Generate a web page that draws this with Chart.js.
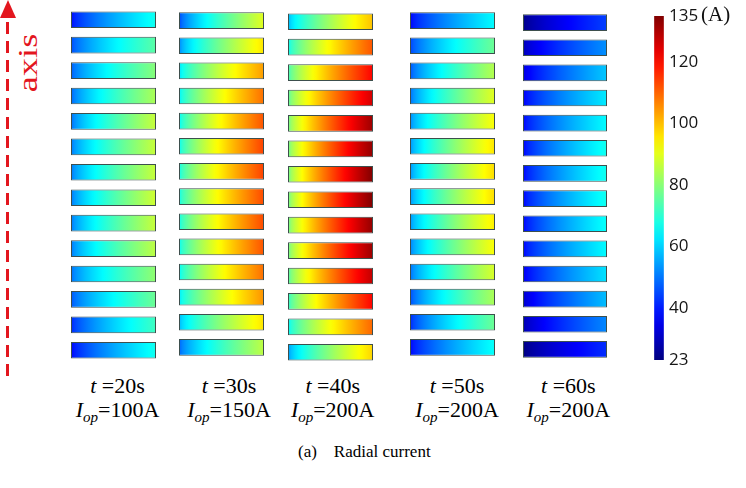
<!DOCTYPE html>
<html lang="en">
<head>
<meta charset="utf-8">
<title>Radial current</title>
<script src="https://cdn.jsdelivr.net/npm/chart.js@4.4.1/dist/chart.umd.min.js"></script>
<style>
  body { margin: 0; background: #fff; }
  #wrap { position: relative; width: 746px; height: 488px; overflow: hidden; background: #fff; }
  canvas { position: absolute; }
  .lab { position: absolute; font-family: "Liberation Serif", "Times New Roman", serif; font-size: 22px;
         line-height: 22px; color: #000; white-space: nowrap; transform: translateX(-50%); }
  .lab sub { font-size: 15px; vertical-align: -5px; line-height: 0; }
  #axisTxt { position: absolute; left: 28px; top: 63px; color: #e3161e; font-family: "Liberation Serif", serif;
             font-size: 28px; line-height: 28px; white-space: nowrap;
             transform: translate(-50%, -50%) rotate(-90deg) scaleX(1.3); }
  #unit { position: absolute; left: 701px; top: 4px; font-family: "Liberation Serif", serif; font-size: 21px;
          line-height: 21px; color: #111; }
  #caption { position: absolute; left: 298px; top: 443px; font-family: "Liberation Serif", serif;
             font-size: 17px; line-height: 17px; color: #000; white-space: pre; }
</style>
</head>
<body>
<div id="wrap">
  <svg style="position:absolute;left:0;top:0" width="40" height="390">
    <line x1="7.5" y1="376" x2="7.5" y2="17" stroke="#e3161e" stroke-width="3" stroke-dasharray="12 7"/>
    <polygon points="0,18 16,18 8,0" fill="#e3161e"/>
  </svg>
  <div id="axisTxt">axis</div>
  <canvas id="c0" width="85" height="356"></canvas>
  <canvas id="c1" width="85" height="352"></canvas>
  <canvas id="c2" width="85" height="356"></canvas>
  <canvas id="c3" width="85" height="352"></canvas>
  <canvas id="c4" width="84" height="352"></canvas>
  <canvas id="cbar" width="70" height="376"></canvas>
  <div id="unit">(A)</div>
  <div id="caption">(a)    Radial current</div>
</div>

<script>
  // time steps and operating currents, one per column
  const times = [20, 30, 40, 50, 60];
  const opCurrents = [100, 150, 200, 200, 200];

  // layers along the axis, top to bottom
  const layers = ['1','2','3','4','5','6','7','8','9','10','11','12','13','14'];

  // radial extent of each layer (normalised, inner to outer radius)
  const radialSpan = [0, 1];

  // current (A) at inner and outer edge of each layer
  const inner20 = [38, 45, 47, 48, 49, 50, 50, 50, 50, 50, 49, 46, 41, 37];
  const outer20 = [67, 75, 80, 84, 87, 87, 87, 88, 87, 86, 81, 77, 72, 67];
  const inner30 = [45, 52, 62, 64, 65, 66, 67, 67, 67, 66, 65, 63, 57, 48];
  const outer30 = [90, 96, 104, 109, 112, 114, 114, 113, 113, 112, 109, 105, 96, 86];
  const inner40 = [57, 66, 72, 75, 77, 77, 77, 77, 77, 77, 74, 70, 65, 54];
  const outer40 = [100, 112, 121, 126, 132, 133, 135, 135, 133, 132, 128, 121, 110, 98];
  const inner50 = [37, 44, 46, 49, 52, 53, 53, 53, 53, 51, 49, 45, 41, 37];
  const outer50 = [65, 77, 85, 90, 93, 96, 97, 97, 95, 93, 89, 84, 77, 66];
  const inner60 = [24, 29, 33, 36, 37, 37, 37, 37, 37, 37, 35, 31, 28, 23];
  const outer60 = [44, 53, 59, 63, 65, 67, 67, 67, 66, 65, 62, 58, 52, 42];

  // colour bar
  const cMin = 23, cMax = 135;
  const cbarTicks = [23, 40, 60, 80, 100, 120, 135];

  const innerVals = [inner20, inner30, inner40, inner50, inner60];
  const outerVals = [outer20, outer30, outer40, outer50, outer60];

  // where each column sits on the page
  const colLayout = [
    { left: 71,  top: 7,  pitch: 25.4 },
    { left: 179, top: 8,  pitch: 25.1 },
    { left: 288, top: 9,  pitch: 25.4 },
    { left: 410, top: 8,  pitch: 25.1 },
    { left: 523, top: 10, pitch: 25.1 }
  ];
  const labelX = [117.5, 229, 332.7, 457, 568.3];
  const profile = 0.72;  // current rises faster near the inner edge

  function jet(f) {
    f = Math.max(0, Math.min(1, f));
    const cl = v => Math.round(255 * Math.max(0, Math.min(1, v)));
    return 'rgb(' + cl(1.5 - Math.abs(4 * f - 3)) + ',' + cl(1.5 - Math.abs(4 * f - 2)) + ',' + cl(1.5 - Math.abs(4 * f - 1)) + ')';
  }

  function barFill(c, inner, outer) {
    const chart = c.chart, xs = chart.scales.x;
    if (!xs || c.dataIndex === undefined) return '#888';
    const x0 = xs.getPixelForValue(radialSpan[0]), x1 = xs.getPixelForValue(radialSpan[1]);
    if (!isFinite(x0) || !isFinite(x1)) return '#888';
    const g = chart.ctx.createLinearGradient(x0, 0, x1, 0);
    const a = inner[c.dataIndex], b = outer[c.dataIndex];
    const N = 24;
    for (let k = 0; k <= N; k++) {
      const s = k / N;
      const v = a + (b - a) * Math.pow(s, profile);
      g.addColorStop(s, jet((v - cMin) / (cMax - cMin)));
    }
    return g;
  }

  times.forEach((t, i) => {
    const lay = colLayout[i];
    const cv = document.getElementById('c' + i);
    cv.style.left = lay.left + 'px';
    cv.style.top = lay.top + 'px';
    new Chart(cv, {
      type: 'bar',
      data: {
        labels: layers,
        datasets: [{
          data: layers.map(() => radialSpan),
          backgroundColor: c => barFill(c, innerVals[i], outerVals[i]),
          borderColor: 'rgba(40,60,58,0.9)',
          borderWidth: 1,
          borderSkipped: false,
          categoryPercentage: 1,
          barPercentage: 16.6 / lay.pitch
        }]
      },
      options: {
        indexAxis: 'y',
        responsive: false,
        animation: false,
        layout: { padding: 0 },
        plugins: { legend: { display: false }, tooltip: { enabled: false } },
        scales: {
          x: { display: false, min: radialSpan[0], max: radialSpan[1] },
          y: { display: false }
        }
      }
    });

    // column captions
    const l1 = document.createElement('div');
    l1.className = 'lab';
    l1.style.left = labelX[i] + 'px';
    l1.style.top = '375px';
    l1.innerHTML = '<i>t</i> =' + t + 's';
    document.getElementById('wrap').appendChild(l1);
    const l2 = document.createElement('div');
    l2.className = 'lab';
    l2.style.left = labelX[i] + 'px';
    l2.style.top = '399px';
    l2.innerHTML = '<i>I</i><sub><i>op</i></sub>=' + opCurrents[i] + 'A';
    document.getElementById('wrap').appendChild(l2);
  });

  // colour bar
  const cb = document.getElementById('cbar');
  cb.style.left = '649px';
  cb.style.top = '0px';
  new Chart(cb, {
    type: 'bar',
    data: {
      labels: [''],
      datasets: [{
        data: [[cMin, cMax]],
        backgroundColor: c => {
          const ys = c.chart.scales.y;
          if (!ys) return '#888';
          const y0 = ys.getPixelForValue(cMin), y1 = ys.getPixelForValue(cMax);
          if (!isFinite(y0) || !isFinite(y1)) return '#888';
          const g = c.chart.ctx.createLinearGradient(0, y0, 0, y1);
          for (let k = 0; k <= 20; k++) g.addColorStop(k / 20, jet(k / 20));
          return g;
        },
        borderWidth: 0,
        barThickness: 9
      }]
    },
    options: {
      responsive: false,
      animation: false,
      layout: { padding: { top: 16, bottom: 16, left: 0, right: 0 } },
      plugins: { legend: { display: false }, tooltip: { enabled: false } },
      scales: {
        x: { display: false },
        y: {
          position: 'right',
          min: cMin,
          max: cMax,
          afterBuildTicks: s => { s.ticks = cbarTicks.map(v => ({ value: v })); },
          afterFit: s => { s.width = 50; },
          grid: { display: false, drawTicks: false },
          border: { display: false },
          ticks: { padding: 0, color: '#151515', font: { family: 'Open Sans', size: 17 } }
        }
      }
    }
  });
</script>
</body>
</html>
